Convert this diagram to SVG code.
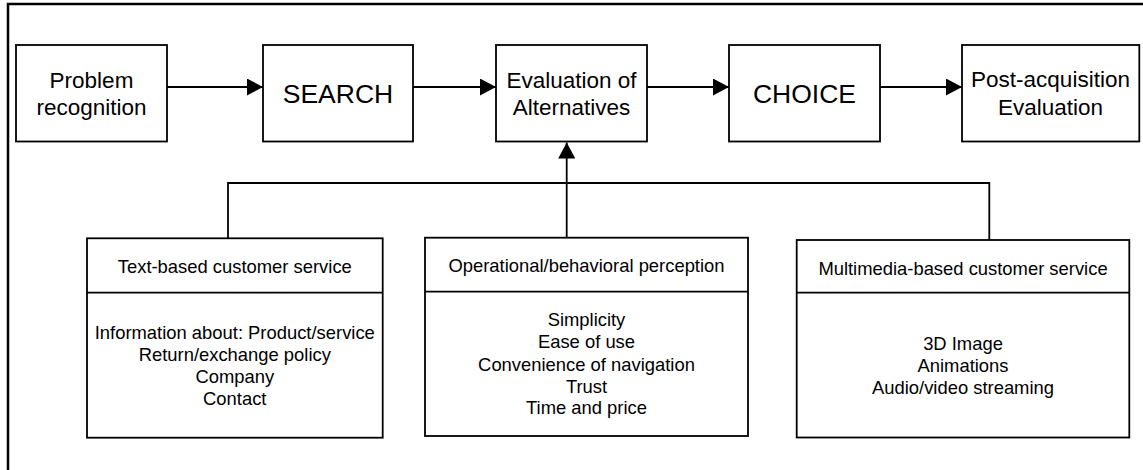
<svg xmlns="http://www.w3.org/2000/svg" width="1143" height="470" viewBox="0 0 1143 470">
<defs>
<style>
.box{fill:#fff;stroke:#000;stroke-width:1.8}
.ln{fill:none;stroke:#000;stroke-width:1.8}
.t{font-family:"Liberation Sans",Arial,sans-serif;fill:#000;text-anchor:middle}
.big{font-size:22.5px}
.huge{font-size:26.5px}
.sm{font-size:18.4px}
</style>
<marker id="ah" markerWidth="16" markerHeight="17" refX="16" refY="8.5" orient="auto" markerUnits="userSpaceOnUse">
<path d="M0,0 L16,8.5 L0,17 Z" fill="#000"/>
</marker>
</defs>
<rect width="1143" height="470" fill="#fff"/>
<rect x="8" y="4" width="1200" height="520" fill="none" stroke="#000" stroke-width="2.5"/>

<g id="connectors">
<line class="ln" x1="167" y1="87" x2="263" y2="87" marker-end="url(#ah)"/>
<line class="ln" x1="413" y1="87" x2="496" y2="87" marker-end="url(#ah)"/>
<line class="ln" x1="647" y1="87" x2="729" y2="87" marker-end="url(#ah)"/>
<line class="ln" x1="880" y1="87" x2="962" y2="87" marker-end="url(#ah)"/>
<line class="ln" x1="566.7" y1="183" x2="566.7" y2="142.5" marker-end="url(#ah)"/>
<polyline class="ln" points="228,238 228,183 989.3,183 989.3,240"/>
<line class="ln" x1="566.7" y1="183" x2="566.7" y2="238"/>
</g>

<g id="problem">
<rect class="box" x="16" y="45" width="151" height="96.5"/>
<text class="t big" x="91.5" y="88">Problem</text>
<text class="t big" x="91.5" y="115">recognition</text>
</g>
<g id="search">
<rect class="box" x="263" y="45" width="150" height="96.5"/>
<text class="t huge" x="338" y="103.3">SEARCH</text>
</g>
<g id="evaluation">
<rect class="box" x="496" y="45" width="151" height="96.5"/>
<text class="t big" x="571.5" y="87.7">Evaluation of</text>
<text class="t big" x="571.5" y="115">Alternatives</text>
</g>
<g id="choice">
<rect class="box" x="729" y="45" width="151" height="96.5"/>
<text class="t huge" x="804.5" y="103.3">CHOICE</text>
</g>
<g id="post">
<rect class="box" x="962" y="45" width="177.3" height="96.5"/>
<text class="t big" x="1050.5" y="87.3">Post-acquisition</text>
<text class="t big" x="1050.5" y="115">Evaluation</text>
</g>

<g id="text-based">
<rect class="box" x="87" y="238.3" width="295.7" height="199.4"/>
<line class="ln" x1="87" y1="292.7" x2="382.7" y2="292.7"/>
<text class="t sm" x="234.8" y="273.3">Text-based customer service</text>
<text class="t sm" x="234.8" y="339">Information about: Product/service</text>
<text class="t sm" x="234.8" y="360.7">Return/exchange policy</text>
<text class="t sm" x="234.8" y="383.3">Company</text>
<text class="t sm" x="234.8" y="405">Contact</text>
</g>
<g id="operational">
<rect class="box" x="425" y="237.7" width="323" height="198.3"/>
<line class="ln" x1="425" y1="291.7" x2="748" y2="291.7"/>
<text class="t sm" x="586.5" y="271.7">Operational/behavioral perception</text>
<text class="t sm" x="586.5" y="326">Simplicity</text>
<text class="t sm" x="586.5" y="348.3">Ease of use</text>
<text class="t sm" x="586.5" y="370.7">Convenience of navigation</text>
<text class="t sm" x="586.5" y="392.7">Trust</text>
<text class="t sm" x="586.5" y="414.3">Time and price</text>
</g>
<g id="multimedia">
<rect class="box" x="796.7" y="240" width="332.6" height="197.5"/>
<line class="ln" x1="796.7" y1="292.7" x2="1129.3" y2="292.7"/>
<text class="t sm" x="963" y="275">Multimedia-based customer service</text>
<text class="t sm" x="963" y="350">3D Image</text>
<text class="t sm" x="963" y="371.7">Animations</text>
<text class="t sm" x="963" y="394">Audio/video streaming</text>
</g>
</svg>
